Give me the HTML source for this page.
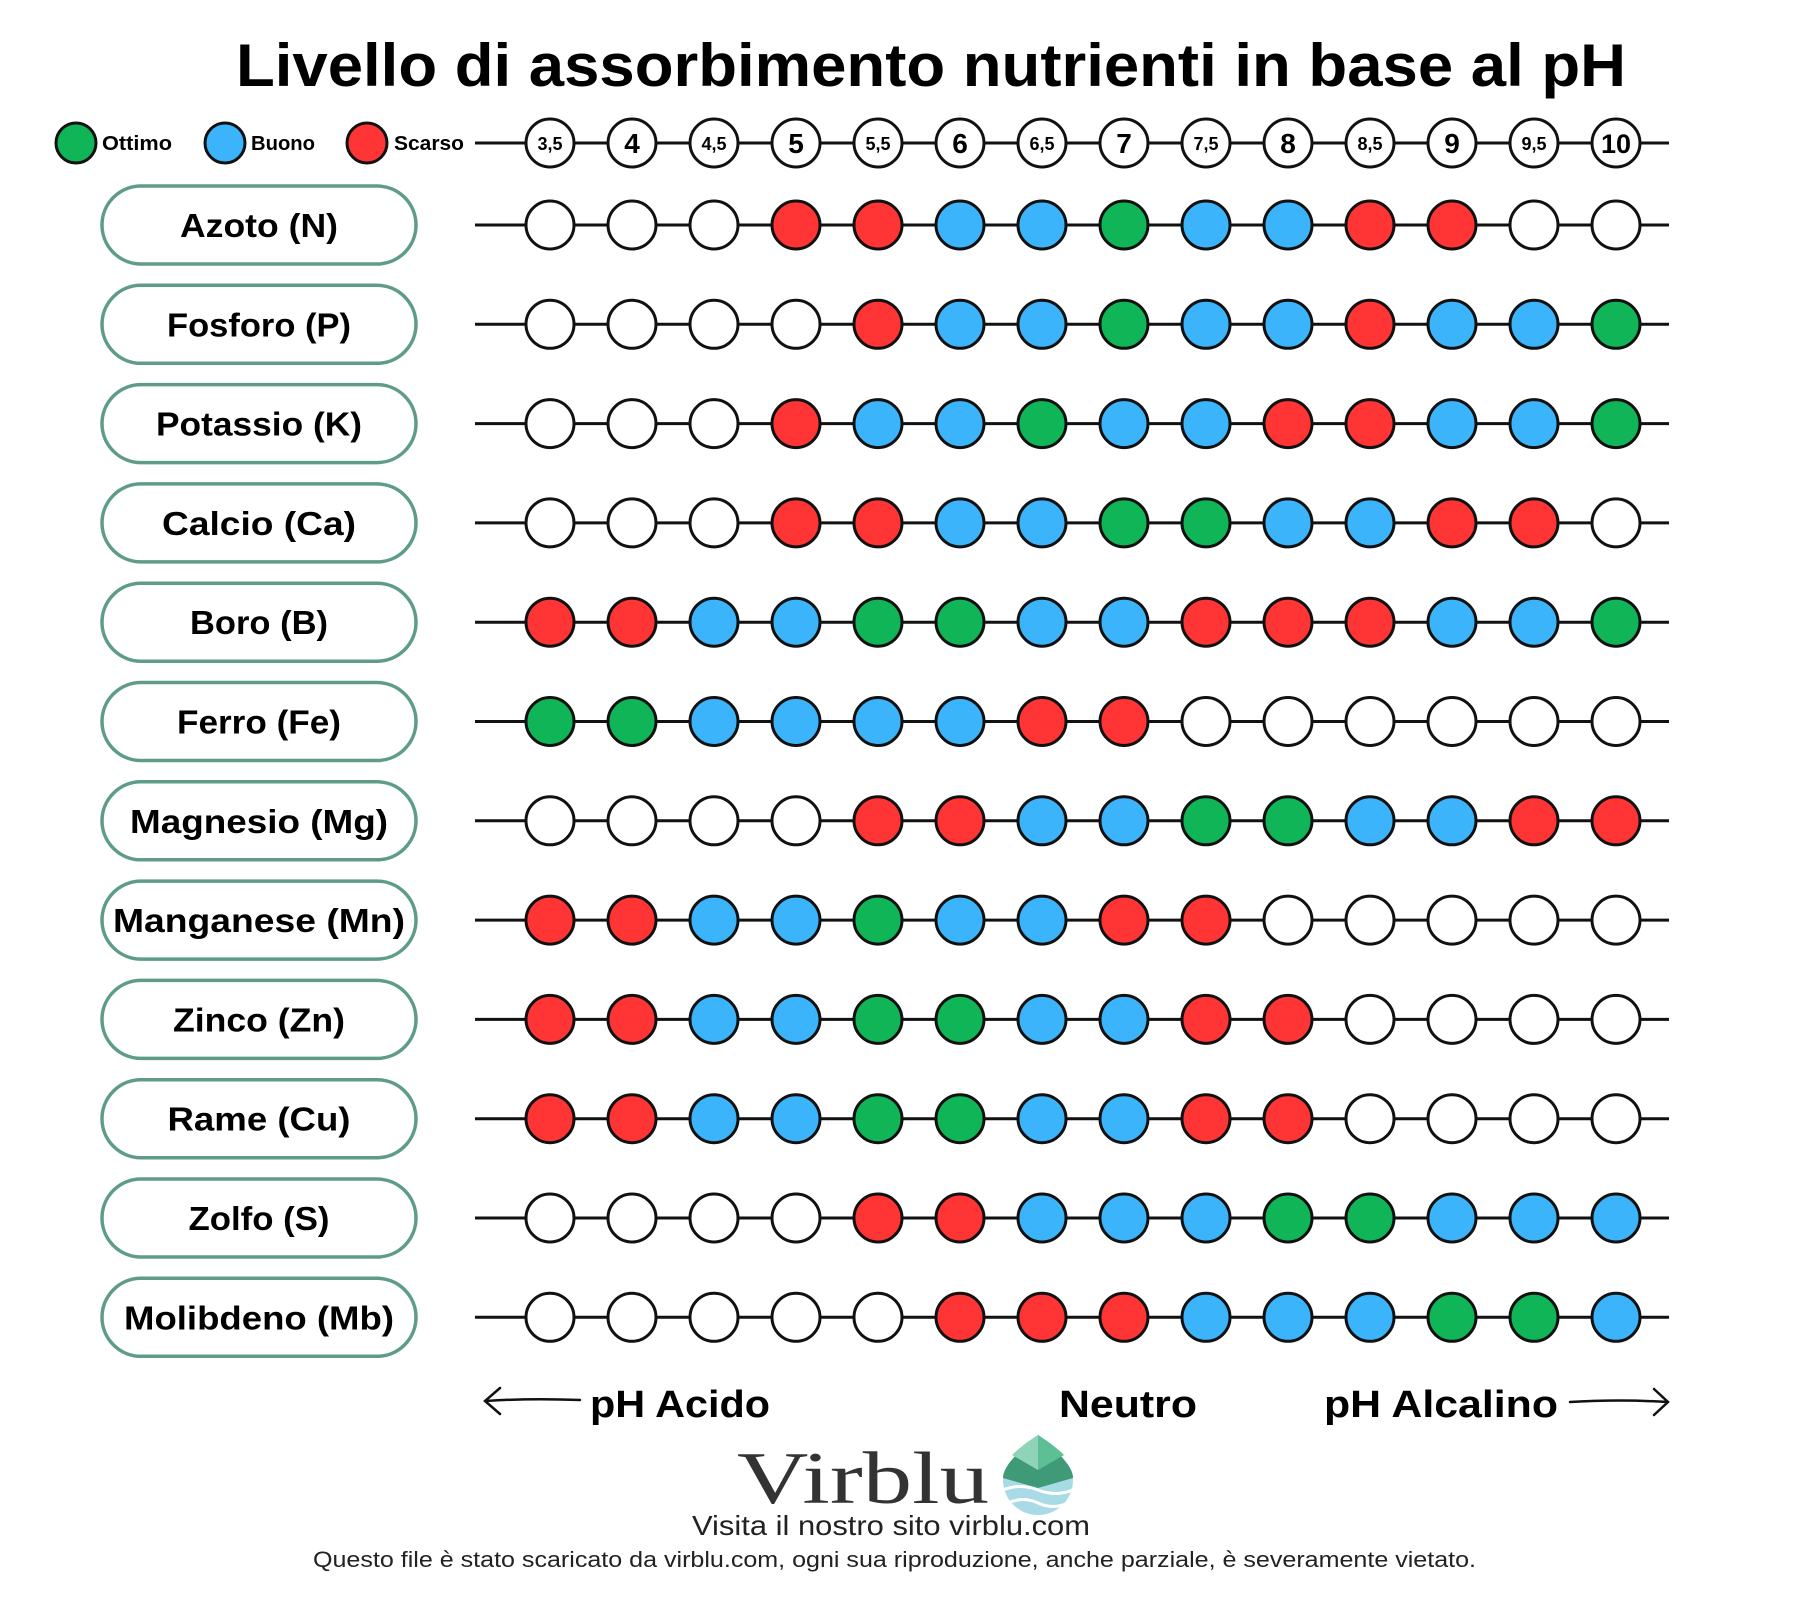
<!DOCTYPE html>
<html><head><meta charset="utf-8"><style>
html,body{margin:0;padding:0;background:#fff;}
svg{display:block;}
.w{fill:#fff}.r{fill:#ff3434}.b{fill:#3cb4fb}.g{fill:#10b558}
circle{stroke:#111;stroke-width:3}
.lab{font-family:"Liberation Sans",sans-serif;font-weight:bold;font-size:33px;text-anchor:middle;fill:#000}
.h{font-family:"Liberation Sans",sans-serif;font-weight:bold;text-anchor:middle;fill:#000}
</style></head><body>
<svg width="1800" height="1617" viewBox="0 0 1800 1617" xmlns="http://www.w3.org/2000/svg">
<rect width="1800" height="1617" fill="#fff"/>
<text x="236" y="86" font-family="Liberation Sans, sans-serif" font-weight="bold" font-size="60" textLength="1390" lengthAdjust="spacingAndGlyphs">Livello di assorbimento nutrienti in base al pH</text>

<!-- legend -->
<circle cx="76" cy="143" r="20" class="g"/>
<text x="102" y="150" font-family="Liberation Sans, sans-serif" font-weight="bold" font-size="20" textLength="70" lengthAdjust="spacingAndGlyphs">Ottimo</text>
<circle cx="225" cy="143" r="20" class="b"/>
<text x="251" y="150" font-family="Liberation Sans, sans-serif" font-weight="bold" font-size="20" textLength="64" lengthAdjust="spacingAndGlyphs">Buono</text>
<circle cx="367" cy="143" r="20" class="r"/>
<text x="394" y="150" font-family="Liberation Sans, sans-serif" font-weight="bold" font-size="20" textLength="70" lengthAdjust="spacingAndGlyphs">Scarso</text>

<!-- header -->
<g>
<line x1="475" y1="143" x2="1669" y2="143" stroke="#111" stroke-width="3"/>
<circle cx="550" cy="143" r="24" class="w"/><text class="h" x="550" y="150" font-size="18">3,5</text>
<circle cx="632" cy="143" r="24" class="w"/><text class="h" x="632" y="153" font-size="28">4</text>
<circle cx="714" cy="143" r="24" class="w"/><text class="h" x="714" y="150" font-size="18">4,5</text>
<circle cx="796" cy="143" r="24" class="w"/><text class="h" x="796" y="153" font-size="28">5</text>
<circle cx="878" cy="143" r="24" class="w"/><text class="h" x="878" y="150" font-size="18">5,5</text>
<circle cx="960" cy="143" r="24" class="w"/><text class="h" x="960" y="153" font-size="28">6</text>
<circle cx="1042" cy="143" r="24" class="w"/><text class="h" x="1042" y="150" font-size="18">6,5</text>
<circle cx="1124" cy="143" r="24" class="w"/><text class="h" x="1124" y="153" font-size="28">7</text>
<circle cx="1206" cy="143" r="24" class="w"/><text class="h" x="1206" y="150" font-size="18">7,5</text>
<circle cx="1288" cy="143" r="24" class="w"/><text class="h" x="1288" y="153" font-size="28">8</text>
<circle cx="1370" cy="143" r="24" class="w"/><text class="h" x="1370" y="150" font-size="18">8,5</text>
<circle cx="1452" cy="143" r="24" class="w"/><text class="h" x="1452" y="153" font-size="28">9</text>
<circle cx="1534" cy="143" r="24" class="w"/><text class="h" x="1534" y="150" font-size="18">9,5</text>
<circle cx="1616" cy="143" r="24" class="w"/><text class="h" x="1616" y="153" font-size="27">10</text>
</g>

<defs>
<rect id="pill" x="102" y="-39" width="314" height="78" rx="39" fill="#fff" stroke="#5e9c87" stroke-width="3.5"/>
<line id="ln" x1="475" y1="0" x2="1669" y2="0" stroke="#111" stroke-width="3"/>
</defs>

<g transform="translate(0,225)"><use href="#pill"/><text class="lab" x="259" y="12" textLength="158" lengthAdjust="spacingAndGlyphs">Azoto (N)</text><use href="#ln"/>
<circle cx="550" r="24" class="w"/><circle cx="632" r="24" class="w"/><circle cx="714" r="24" class="w"/><circle cx="796" r="24" class="r"/><circle cx="878" r="24" class="r"/><circle cx="960" r="24" class="b"/><circle cx="1042" r="24" class="b"/><circle cx="1124" r="24" class="g"/><circle cx="1206" r="24" class="b"/><circle cx="1288" r="24" class="b"/><circle cx="1370" r="24" class="r"/><circle cx="1452" r="24" class="r"/><circle cx="1534" r="24" class="w"/><circle cx="1616" r="24" class="w"/></g>

<g transform="translate(0,324.3)"><use href="#pill"/><text class="lab" x="259" y="12" textLength="184" lengthAdjust="spacingAndGlyphs">Fosforo (P)</text><use href="#ln"/>
<circle cx="550" r="24" class="w"/><circle cx="632" r="24" class="w"/><circle cx="714" r="24" class="w"/><circle cx="796" r="24" class="w"/><circle cx="878" r="24" class="r"/><circle cx="960" r="24" class="b"/><circle cx="1042" r="24" class="b"/><circle cx="1124" r="24" class="g"/><circle cx="1206" r="24" class="b"/><circle cx="1288" r="24" class="b"/><circle cx="1370" r="24" class="r"/><circle cx="1452" r="24" class="b"/><circle cx="1534" r="24" class="b"/><circle cx="1616" r="24" class="g"/></g>

<g transform="translate(0,423.6)"><use href="#pill"/><text class="lab" x="259" y="12" textLength="206" lengthAdjust="spacingAndGlyphs">Potassio (K)</text><use href="#ln"/>
<circle cx="550" r="24" class="w"/><circle cx="632" r="24" class="w"/><circle cx="714" r="24" class="w"/><circle cx="796" r="24" class="r"/><circle cx="878" r="24" class="b"/><circle cx="960" r="24" class="b"/><circle cx="1042" r="24" class="g"/><circle cx="1124" r="24" class="b"/><circle cx="1206" r="24" class="b"/><circle cx="1288" r="24" class="r"/><circle cx="1370" r="24" class="r"/><circle cx="1452" r="24" class="b"/><circle cx="1534" r="24" class="b"/><circle cx="1616" r="24" class="g"/></g>

<g transform="translate(0,522.9)"><use href="#pill"/><text class="lab" x="259" y="12" textLength="194" lengthAdjust="spacingAndGlyphs">Calcio (Ca)</text><use href="#ln"/>
<circle cx="550" r="24" class="w"/><circle cx="632" r="24" class="w"/><circle cx="714" r="24" class="w"/><circle cx="796" r="24" class="r"/><circle cx="878" r="24" class="r"/><circle cx="960" r="24" class="b"/><circle cx="1042" r="24" class="b"/><circle cx="1124" r="24" class="g"/><circle cx="1206" r="24" class="g"/><circle cx="1288" r="24" class="b"/><circle cx="1370" r="24" class="b"/><circle cx="1452" r="24" class="r"/><circle cx="1534" r="24" class="r"/><circle cx="1616" r="24" class="w"/></g>

<g transform="translate(0,622.2)"><use href="#pill"/><text class="lab" x="259" y="12" textLength="138" lengthAdjust="spacingAndGlyphs">Boro (B)</text><use href="#ln"/>
<circle cx="550" r="24" class="r"/><circle cx="632" r="24" class="r"/><circle cx="714" r="24" class="b"/><circle cx="796" r="24" class="b"/><circle cx="878" r="24" class="g"/><circle cx="960" r="24" class="g"/><circle cx="1042" r="24" class="b"/><circle cx="1124" r="24" class="b"/><circle cx="1206" r="24" class="r"/><circle cx="1288" r="24" class="r"/><circle cx="1370" r="24" class="r"/><circle cx="1452" r="24" class="b"/><circle cx="1534" r="24" class="b"/><circle cx="1616" r="24" class="g"/></g>

<g transform="translate(0,721.5)"><use href="#pill"/><text class="lab" x="259" y="12" textLength="164" lengthAdjust="spacingAndGlyphs">Ferro (Fe)</text><use href="#ln"/>
<circle cx="550" r="24" class="g"/><circle cx="632" r="24" class="g"/><circle cx="714" r="24" class="b"/><circle cx="796" r="24" class="b"/><circle cx="878" r="24" class="b"/><circle cx="960" r="24" class="b"/><circle cx="1042" r="24" class="r"/><circle cx="1124" r="24" class="r"/><circle cx="1206" r="24" class="w"/><circle cx="1288" r="24" class="w"/><circle cx="1370" r="24" class="w"/><circle cx="1452" r="24" class="w"/><circle cx="1534" r="24" class="w"/><circle cx="1616" r="24" class="w"/></g>

<g transform="translate(0,820.8)"><use href="#pill"/><text class="lab" x="259" y="12" textLength="258" lengthAdjust="spacingAndGlyphs">Magnesio (Mg)</text><use href="#ln"/>
<circle cx="550" r="24" class="w"/><circle cx="632" r="24" class="w"/><circle cx="714" r="24" class="w"/><circle cx="796" r="24" class="w"/><circle cx="878" r="24" class="r"/><circle cx="960" r="24" class="r"/><circle cx="1042" r="24" class="b"/><circle cx="1124" r="24" class="b"/><circle cx="1206" r="24" class="g"/><circle cx="1288" r="24" class="g"/><circle cx="1370" r="24" class="b"/><circle cx="1452" r="24" class="b"/><circle cx="1534" r="24" class="r"/><circle cx="1616" r="24" class="r"/></g>

<g transform="translate(0,920.1)"><use href="#pill"/><text class="lab" x="259" y="12" textLength="292" lengthAdjust="spacingAndGlyphs">Manganese (Mn)</text><use href="#ln"/>
<circle cx="550" r="24" class="r"/><circle cx="632" r="24" class="r"/><circle cx="714" r="24" class="b"/><circle cx="796" r="24" class="b"/><circle cx="878" r="24" class="g"/><circle cx="960" r="24" class="b"/><circle cx="1042" r="24" class="b"/><circle cx="1124" r="24" class="r"/><circle cx="1206" r="24" class="r"/><circle cx="1288" r="24" class="w"/><circle cx="1370" r="24" class="w"/><circle cx="1452" r="24" class="w"/><circle cx="1534" r="24" class="w"/><circle cx="1616" r="24" class="w"/></g>

<g transform="translate(0,1019.4)"><use href="#pill"/><text class="lab" x="259" y="12" textLength="172" lengthAdjust="spacingAndGlyphs">Zinco (Zn)</text><use href="#ln"/>
<circle cx="550" r="24" class="r"/><circle cx="632" r="24" class="r"/><circle cx="714" r="24" class="b"/><circle cx="796" r="24" class="b"/><circle cx="878" r="24" class="g"/><circle cx="960" r="24" class="g"/><circle cx="1042" r="24" class="b"/><circle cx="1124" r="24" class="b"/><circle cx="1206" r="24" class="r"/><circle cx="1288" r="24" class="r"/><circle cx="1370" r="24" class="w"/><circle cx="1452" r="24" class="w"/><circle cx="1534" r="24" class="w"/><circle cx="1616" r="24" class="w"/></g>

<g transform="translate(0,1118.7)"><use href="#pill"/><text class="lab" x="259" y="12" textLength="183" lengthAdjust="spacingAndGlyphs">Rame (Cu)</text><use href="#ln"/>
<circle cx="550" r="24" class="r"/><circle cx="632" r="24" class="r"/><circle cx="714" r="24" class="b"/><circle cx="796" r="24" class="b"/><circle cx="878" r="24" class="g"/><circle cx="960" r="24" class="g"/><circle cx="1042" r="24" class="b"/><circle cx="1124" r="24" class="b"/><circle cx="1206" r="24" class="r"/><circle cx="1288" r="24" class="r"/><circle cx="1370" r="24" class="w"/><circle cx="1452" r="24" class="w"/><circle cx="1534" r="24" class="w"/><circle cx="1616" r="24" class="w"/></g>

<g transform="translate(0,1218)"><use href="#pill"/><text class="lab" x="259" y="12" textLength="141" lengthAdjust="spacingAndGlyphs">Zolfo (S)</text><use href="#ln"/>
<circle cx="550" r="24" class="w"/><circle cx="632" r="24" class="w"/><circle cx="714" r="24" class="w"/><circle cx="796" r="24" class="w"/><circle cx="878" r="24" class="r"/><circle cx="960" r="24" class="r"/><circle cx="1042" r="24" class="b"/><circle cx="1124" r="24" class="b"/><circle cx="1206" r="24" class="b"/><circle cx="1288" r="24" class="g"/><circle cx="1370" r="24" class="g"/><circle cx="1452" r="24" class="b"/><circle cx="1534" r="24" class="b"/><circle cx="1616" r="24" class="b"/></g>

<g transform="translate(0,1317.3)"><use href="#pill"/><text class="lab" x="259" y="12" textLength="270" lengthAdjust="spacingAndGlyphs">Molibdeno (Mb)</text><use href="#ln"/>
<circle cx="550" r="24" class="w"/><circle cx="632" r="24" class="w"/><circle cx="714" r="24" class="w"/><circle cx="796" r="24" class="w"/><circle cx="878" r="24" class="w"/><circle cx="960" r="24" class="r"/><circle cx="1042" r="24" class="r"/><circle cx="1124" r="24" class="r"/><circle cx="1206" r="24" class="b"/><circle cx="1288" r="24" class="b"/><circle cx="1370" r="24" class="b"/><circle cx="1452" r="24" class="g"/><circle cx="1534" r="24" class="g"/><circle cx="1616" r="24" class="b"/></g>

<!-- bottom labels -->
<path d="M580 1400 Q530 1398 486 1401 M500 1388 L485 1401 L500 1414" fill="none" stroke="#111" stroke-width="2.5" stroke-linecap="round"/>
<text x="590" y="1417" font-family="Liberation Sans, sans-serif" font-weight="bold" font-size="38" textLength="180" lengthAdjust="spacingAndGlyphs">pH Acido</text>
<text x="1059" y="1417" font-family="Liberation Sans, sans-serif" font-weight="bold" font-size="38" textLength="138" lengthAdjust="spacingAndGlyphs">Neutro</text>
<text x="1324" y="1417" font-family="Liberation Sans, sans-serif" font-weight="bold" font-size="38" textLength="234" lengthAdjust="spacingAndGlyphs">pH Alcalino</text>
<path d="M1570 1402 Q1620 1399 1667 1402 M1654 1389 L1668 1402 L1654 1415" fill="none" stroke="#111" stroke-width="2.5" stroke-linecap="round"/>

<!-- logo -->
<text x="737" y="1503" font-family="Liberation Serif, serif" font-size="74" fill="#333" textLength="252" lengthAdjust="spacingAndGlyphs">Virblu</text>
<g>
<path d="M1038 1435 C1058 1452 1073 1466 1073 1480 A35 35 0 0 1 1003 1480 C1003 1466 1018 1452 1038 1435 Z" fill="#a9dbe6"/>
<path d="M1038 1435 C1058 1452 1073 1466 1073 1478 L1038 1488 L1003 1478 C1003 1466 1018 1452 1038 1435 Z" fill="#3f9a78"/>
<path d="M1038 1435 L1038 1470 L1012 1455 C1020 1447 1030 1440 1038 1435 Z" fill="#8fd4b8"/>
<path d="M1038 1435 L1038 1470 L1064 1455 C1056 1447 1046 1440 1038 1435 Z" fill="#5cbf96"/>
<path d="M1003 1490 Q1020 1483 1038 1490 T1073 1490" fill="none" stroke="#fff" stroke-width="3"/>
<path d="M1008 1503 Q1023 1496 1038 1503 T1068 1503" fill="none" stroke="#fff" stroke-width="3"/>
</g>
<text x="692" y="1535" font-family="Liberation Sans, sans-serif" font-size="28" fill="#222" textLength="398" lengthAdjust="spacingAndGlyphs">Visita il nostro sito virblu.com</text>
<text x="313" y="1567" font-family="Liberation Sans, sans-serif" font-size="22" fill="#222" textLength="1163" lengthAdjust="spacingAndGlyphs">Questo file è stato scaricato da virblu.com, ogni sua riproduzione, anche parziale, è severamente vietato.</text>
</svg>
</body></html>
